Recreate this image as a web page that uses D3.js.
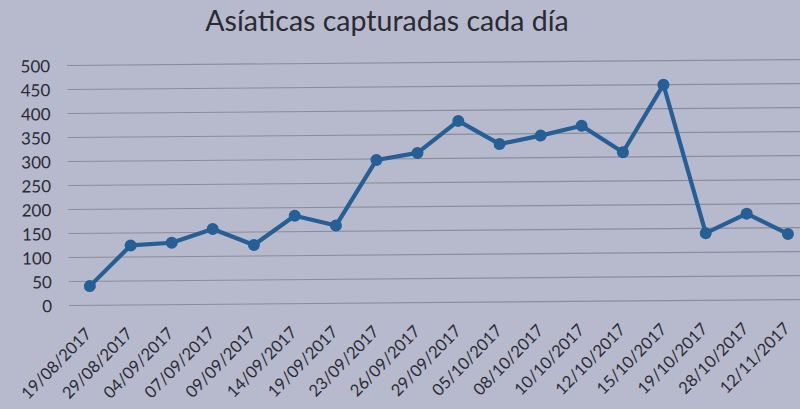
<!DOCTYPE html>
<html><head><meta charset="utf-8">
<script src="https://cdn.jsdelivr.net/npm/d3@7"></script>
<style>
html,body{margin:0;padding:0;background:#b7bacc;}
svg{display:block;}
</style></head>
<body>
<script>
const title = "Asíaticas capturadas cada día";
const categories = ["19/08/2017","29/08/2017","04/09/2017","07/09/2017","09/09/2017","14/09/2017","19/09/2017","23/09/2017","26/09/2017","29/09/2017","05/10/2017","08/10/2017","10/10/2017","12/10/2017","15/10/2017","19/10/2017","28/10/2017","12/11/2017"];
const values = [40,124,129,157,123,183,162,298,312,378,329,346,366,310,450,140,180,137];
const yTicks = [0,50,100,150,200,250,300,350,400,450,500];

const W = 800, H = 409;
const font = "Lato, 'Open Sans', sans-serif";
const svg = d3.select("body").append("svg").attr("width", W).attr("height", H);
svg.append("rect").attr("width", W).attr("height", H).attr("fill", "#b7bacc");

const g = svg.append("g").attr("transform", "rotate(-0.46,67,305)");

const x = d3.scaleBand().domain(categories).range([69.5, 809]).padding(0);
const y = d3.scaleLinear().domain([0, 500]).range([305.5, 65.5]);

// gridlines
g.append("g").selectAll("line").data(yTicks).join("line")
  .attr("x1", 69).attr("x2", 812)
  .attr("y1", d => y(d)).attr("y2", d => y(d))
  .attr("stroke", "#8c8d9b").attr("stroke-width", 1.2);

// y axis labels
const yAxis = d3.axisLeft(y).tickValues(yTicks).tickSize(0).tickPadding(0);
const ya = g.append("g").attr("transform", "translate(52,0)").call(yAxis);
ya.select(".domain").remove();
ya.selectAll("text").attr("font-family", font).attr("font-size", 17).attr("fill", "#2a2a35").attr("dy", "0.36em");

// x axis labels
const xAxis = d3.axisBottom(x).tickSize(0).tickPadding(0);
const xa = g.append("g").attr("transform", "translate(0,318)").call(xAxis);
xa.select(".domain").remove();
xa.selectAll("text")
  .attr("font-family", font).attr("font-size", 16.5).attr("fill", "#2a2a35")
  .attr("text-anchor", "end")
  .attr("dy", "0.7em")
  .attr("transform", "translate(-6,9) rotate(-45)");

// line
const cx = d => x(d) + x.bandwidth() / 2;
const data = categories.map((c, i) => ({c, v: values[i]}));
g.append("path").datum(data)
  .attr("fill", "none").attr("stroke", "#265f96").attr("stroke-width", 4.2)
  .attr("stroke-linejoin", "round")
  .attr("d", d3.line().x(d => cx(d.c)).y(d => y(d.v)));
g.append("g").selectAll("circle").data(data).join("circle")
  .attr("cx", d => cx(d.c)).attr("cy", d => y(d.v)).attr("r", 6)
  .attr("fill", "#265f96");

// title
svg.append("text").attr("x", 387).attr("y", 31).attr("text-anchor", "middle")
  .attr("font-family", font).attr("font-size", 28.5).attr("fill", "#2a2a33").text(title);
</script>
</body></html>
